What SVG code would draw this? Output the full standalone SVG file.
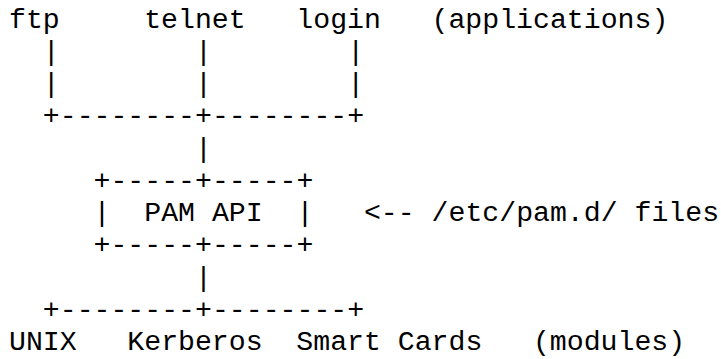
<svg xmlns="http://www.w3.org/2000/svg" width="721" height="359" viewBox="0 0 721 359">
<style>
text{font-family:"Liberation Mono","Courier New",monospace;font-size:28.2px;fill:#000;white-space:pre}
</style>
<rect width="721" height="359" fill="#fff"/>
<g id="app-ftp"><text x="9" y="27.5">ftp</text></g>
<g id="app-telnet"><text x="144.2" y="27.5">telnet</text></g>
<g id="app-login"><text x="296.3" y="27.5">login</text></g>
<g id="label-applications"><text x="431.5" y="27.5">(applications)</text></g>
<g id="connectors">
<text x="42.8" y="59.75" xml:space="preserve">|        |        |</text>
<text x="42.8" y="92" xml:space="preserve">|        |        |</text>
<text x="42.8" y="124.25">+--------+--------+</text>
<text x="194.9" y="156.5">|</text>
<text x="194.9" y="285.5">|</text>
<text x="42.8" y="317.75">+--------+--------+</text>
</g>
<g id="pam-api">
<text x="93.5" y="188.75">+-----+-----+</text>
<text x="93.5" y="221" xml:space="preserve">|  PAM API  |</text>
<text x="93.5" y="253.25">+-----+-----+</text>
</g>
<g id="label-files"><text x="363.9" y="221">&lt;-- /etc/pam.d/ files</text></g>
<g id="mod-unix"><text x="9" y="350">UNIX</text></g>
<g id="mod-kerberos"><text x="127.3" y="350">Kerberos</text></g>
<g id="mod-smartcards"><text x="296.3" y="350">Smart Cards</text></g>
<g id="label-modules"><text x="532.9" y="350">(modules)</text></g>
</svg>
